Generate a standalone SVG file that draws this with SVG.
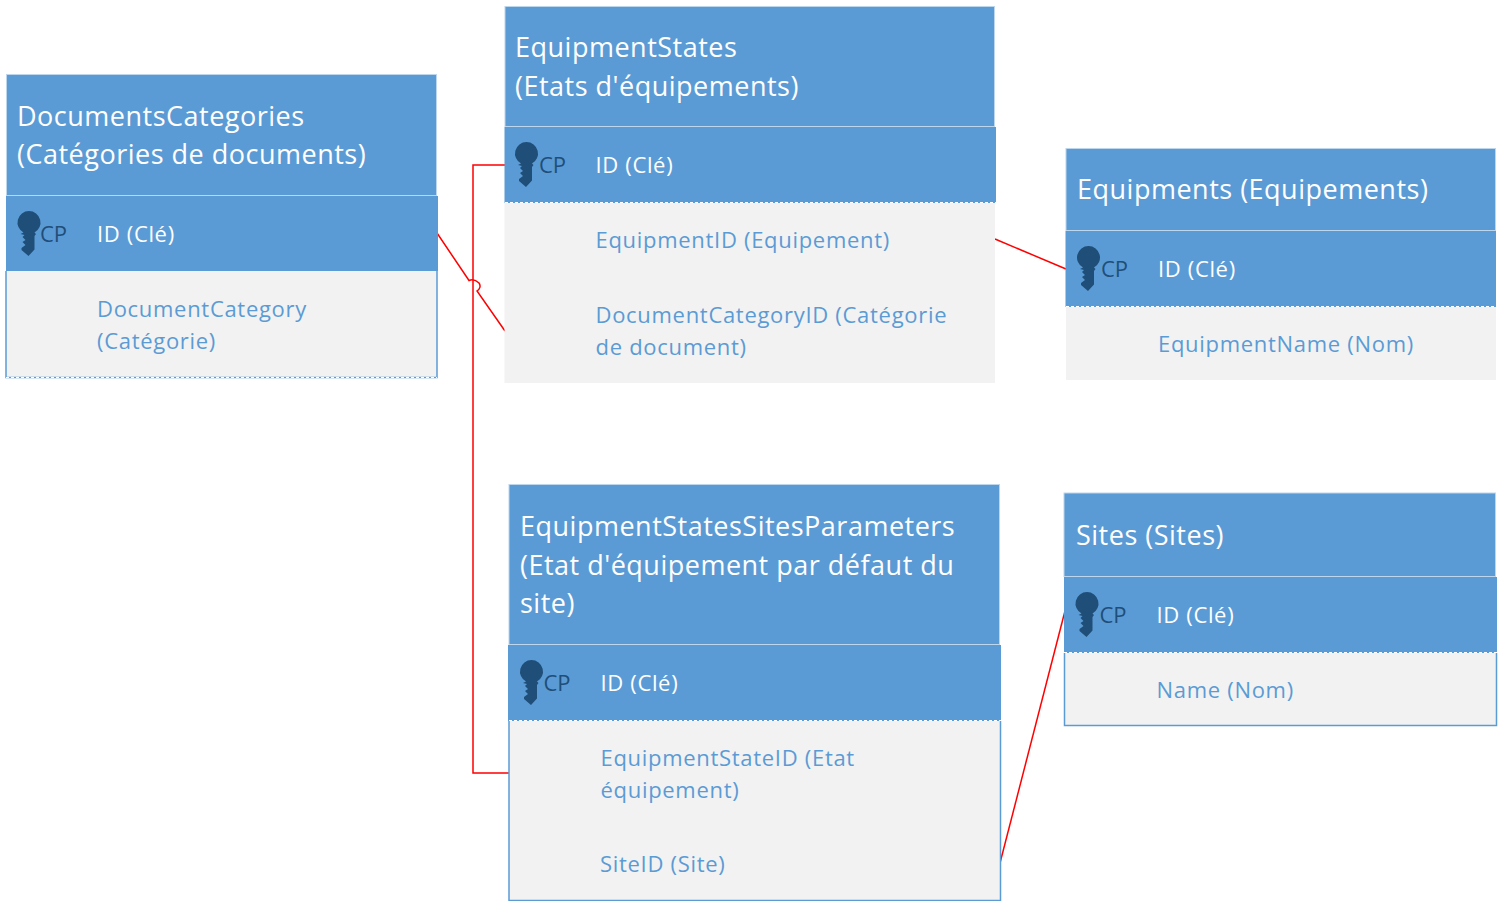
<svg xmlns="http://www.w3.org/2000/svg" width="1504" height="901" viewBox="0 0 1504 901">
<style>
text{font-family:"Open Sans","Noto Sans","Liberation Sans",sans-serif}
.t{font-size:27px;fill:#fff;letter-spacing:.5px}
.i{font-size:22px;fill:#fff;letter-spacing:.65px}
.f{font-size:22px;fill:#5b9bd5;letter-spacing:.7px}
.c{font-size:22px;fill:#1f4e79}
.h{fill:#5b9bd5;stroke:#bcd6ee;stroke-width:1}
.k{fill:#5b9bd5}
.b{fill:#f2f2f2}
.o{fill:none;stroke:#5b9bd5;stroke-width:1.500}
.d{fill:none;stroke:#fff;stroke-width:1;stroke-dasharray:3 2}
.l{fill:none;stroke:#f00;stroke-width:1.500}
</style>
<defs>
<path id="key" d="M11.500 0A11.500 11.500 0 0 1 17 21.600L18.500 23L17 25V38.500L11 45L4 39V37L8 34L5 31L8 29L5 26L7 24L3 23L6 21.600A11.500 11.500 0 0 1 11.500 0Z" fill="#1f4e79"/>
</defs>
<g id="connectors">
<path class="l" d="M505 165H473V773H509"/>
<path class="l" d="M437 233L469 280.500C472 279 476 280 479 283C481 286 480 289 477 291L505 331"/>
<path class="l" d="M995 239L1066 269"/>
<path class="l" d="M1000 863L1065.500 609"/>
</g>
<g id="documents-categories">
<rect class="b" x="6" y="271" width="431" height="107"/>
<path class="o" d="M6 271V377.500H437V271"/>
<path class="d" d="M6 377.500H437"/>
<rect class="h" x="6.500" y="74.500" width="430" height="121"/>
<rect class="k" x="6" y="196" width="432" height="75"/>
<use href="#key" x="17.500" y="211"/>
<text class="c" x="40" y="242">CP</text>
<text class="i" x="97" y="242">ID (Clé)</text>
<text class="t" x="17" y="126">DocumentsCategories</text>
<text class="t" x="17" y="164">(Catégories de documents)</text>
<text class="f" x="97" y="317">DocumentCategory</text>
<text class="f" x="97" y="349">(Catégorie)</text>
</g>
<g id="equipment-states">
<rect class="b" x="504.500" y="203" width="490.500" height="180"/>
<rect class="h" x="505" y="6.500" width="489.500" height="120"/>
<rect class="k" x="504.500" y="127" width="491.500" height="76"/>
<path class="d" d="M505 202.500H996"/>
<use href="#key" x="515" y="142"/>
<text class="c" x="539" y="173">CP</text>
<text class="i" x="595.500" y="173">ID (Clé)</text>
<text class="t" x="515" y="57">EquipmentStates</text>
<text class="t" x="515" y="96">(Etats d'équipements)</text>
<text class="f" x="595.500" y="248">EquipmentID (Equipement)</text>
<text class="f" x="595.500" y="323">DocumentCategoryID (Catégorie</text>
<text class="f" x="595.500" y="355">de document)</text>
</g>
<g id="equipments">
<rect class="b" x="1066" y="307" width="430" height="73"/>
<rect class="h" x="1066" y="148.500" width="429.500" height="82"/>
<rect class="k" x="1065.500" y="231" width="430.500" height="76"/>
<path class="d" d="M1066 306.500H1496"/>
<use href="#key" x="1077" y="246"/>
<text class="c" x="1101" y="277">CP</text>
<text class="i" x="1158" y="277">ID (Clé)</text>
<text class="t" x="1077" y="199">Equipments (Equipements)</text>
<text class="f" x="1158" y="352">EquipmentName (Nom)</text>
</g>
<g id="equipment-states-sites-parameters">
<rect class="b" x="509" y="721" width="491" height="179"/>
<path class="o" d="M509 721V900.500H1000.500V721"/>
<rect class="h" x="509" y="484.500" width="490.500" height="160"/>
<rect class="k" x="508" y="645" width="493" height="76"/>
<path class="d" d="M509 720.500H1001"/>
<use href="#key" x="520" y="660"/>
<text class="c" x="543.500" y="691">CP</text>
<text class="i" x="600.500" y="691">ID (Clé)</text>
<text class="t" x="520" y="536">EquipmentStatesSitesParameters</text>
<text class="t" x="520" y="575">(Etat d'équipement par défaut du</text>
<text class="t" x="520" y="613">site)</text>
<text class="f" x="600.500" y="766">EquipmentStateID (Etat</text>
<text class="f" x="600.500" y="798">équipement)</text>
<text class="f" x="600" y="872">SiteID (Site)</text>
</g>
<g id="sites">
<rect class="b" x="1064" y="653" width="432" height="73"/>
<path class="o" d="M1064.500 653V725.500H1496.500V653"/>
<rect class="h" x="1064" y="493" width="431.500" height="83.500"/>
<rect class="k" x="1064" y="577" width="433" height="76"/>
<path class="d" d="M1064 652.500H1497"/>
<use href="#key" x="1075.500" y="592"/>
<text class="c" x="1099.500" y="623">CP</text>
<text class="i" x="1156.500" y="623">ID (Clé)</text>
<text class="t" x="1076" y="545">Sites (Sites)</text>
<text class="f" x="1156.500" y="698">Name (Nom)</text>
</g>
</svg>
